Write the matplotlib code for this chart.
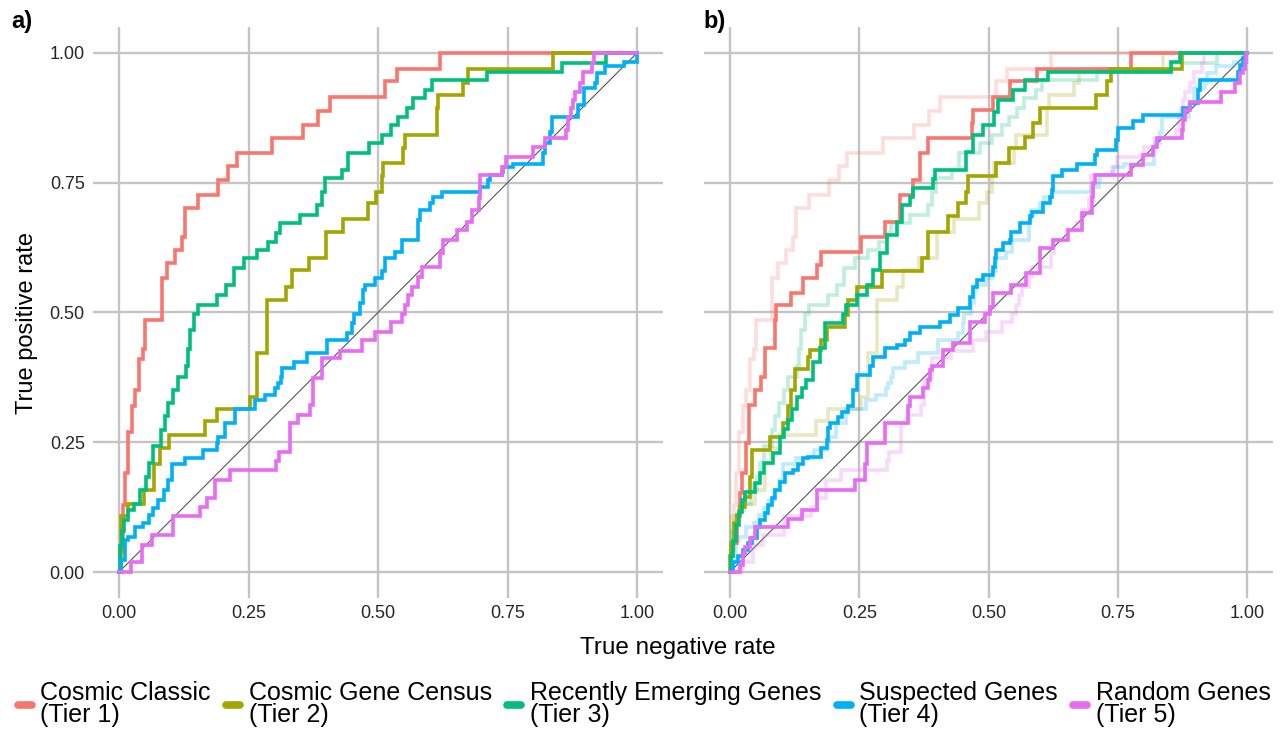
import matplotlib.pyplot as plt
from matplotlib.lines import Line2D

plt.rcParams['font.family'] = ['Liberation Sans', 'DejaVu Sans']

TIER_LABELS = ["Cosmic Classic\n(Tier 1)", "Cosmic Gene Census\n(Tier 2)",
               "Recently Emerging Genes\n(Tier 3)", "Suspected Genes\n(Tier 4)",
               "Random Genes\n(Tier 5)"]
TIER_COLORS = ["#F8766D", "#A3A500", "#00BF7D", "#00B0F6", "#E76BF3"]
TICKS = [0, 0.25, 0.5, 0.75, 1.0]
TICK_LABELS = ["0.00", "0.25", "0.50", "0.75", "1.00"]

# ROC curves, panel a (x = rate where the curve steps up, y = level after the step)
t1a_x = [0, 0.002, 0.008, 0.012, 0.017, 0.025, 0.031, 0.038, 0.046, 0.050, 0.082, 0.092, 0.108, 0.121,
         0.127, 0.153, 0.192, 0.211, 0.227, 0.295, 0.356, 0.385, 0.407, 0.514, 0.536, 0.620, 1.0]
t1a_y = [0, 0.04, 0.13, 0.19, 0.27, 0.32, 0.35, 0.41, 0.43, 0.486, 0.566, 0.595, 0.620, 0.646,
         0.701, 0.726, 0.755, 0.782, 0.808, 0.836, 0.861, 0.889, 0.916, 0.945, 0.970, 1.0, 1.0]

t2a_x = [0, 0.003, 0.017, 0.048, 0.067, 0.080, 0.096, 0.166, 0.189, 0.253, 0.266, 0.285, 0.322, 0.334,
         0.366, 0.400, 0.433, 0.481, 0.497, 0.507, 0.510, 0.549, 0.552, 0.613, 0.616, 0.665, 0.674,
         0.838, 1.0]
t2a_y = [0, 0.107, 0.132, 0.158, 0.209, 0.238, 0.264, 0.290, 0.315, 0.338, 0.421, 0.524, 0.550, 0.582,
         0.604, 0.656, 0.681, 0.710, 0.733, 0.762, 0.788, 0.817, 0.842, 0.893, 0.919, 0.942, 0.970,
         1.0, 1.0]

t3a_x = [0, 0.002, 0.005, 0.010, 0.018, 0.028, 0.041, 0.052, 0.058, 0.066, 0.081, 0.088, 0.095, 0.105,
         0.113, 0.129, 0.133, 0.137, 0.145, 0.152, 0.189, 0.207, 0.221, 0.241, 0.266, 0.288, 0.304,
         0.311, 0.349, 0.382, 0.391, 0.398, 0.430, 0.443, 0.483, 0.507, 0.525, 0.539, 0.555, 0.568,
         0.591, 0.604, 0.710, 0.855, 0.941, 1.0]
t3a_y = [0, 0.05, 0.08, 0.10, 0.12, 0.132, 0.158, 0.184, 0.21, 0.242, 0.274, 0.30, 0.325, 0.35,
         0.376, 0.396, 0.43, 0.466, 0.498, 0.514, 0.534, 0.553, 0.585, 0.604, 0.620, 0.636, 0.654,
         0.672, 0.688, 0.707, 0.733, 0.759, 0.775, 0.807, 0.826, 0.842, 0.861, 0.877, 0.893, 0.913,
         0.929, 0.948, 0.964, 0.981, 1.0, 1.0]

t4a_x = [0, 0.003, 0.012, 0.018, 0.031, 0.047, 0.057, 0.066, 0.076, 0.086, 0.095, 0.102, 0.127, 0.163,
         0.189, 0.192, 0.205, 0.224, 0.263, 0.282, 0.301, 0.306, 0.312, 0.315, 0.338, 0.363, 0.402,
         0.441, 0.450, 0.453, 0.465, 0.471, 0.475, 0.494, 0.507, 0.514, 0.533, 0.546, 0.578, 0.581,
         0.600, 0.607, 0.623, 0.697, 0.713, 0.716, 0.739, 0.742, 0.761, 0.819, 0.822, 0.832, 0.836,
         0.887, 0.897, 0.919, 0.923, 0.939, 0.974, 1.0]
t4a_y = [0, 0.023, 0.062, 0.068, 0.087, 0.094, 0.110, 0.123, 0.139, 0.158, 0.177, 0.209, 0.219, 0.235,
         0.248, 0.261, 0.287, 0.315, 0.331, 0.341, 0.354, 0.364, 0.375, 0.393, 0.405, 0.421, 0.447,
         0.460, 0.48, 0.498, 0.518, 0.543, 0.553, 0.566, 0.579, 0.604, 0.617, 0.640, 0.678, 0.697,
         0.710, 0.723, 0.733, 0.742, 0.755, 0.765, 0.771, 0.781, 0.787, 0.807, 0.826, 0.848, 0.877,
         0.900, 0.932, 0.942, 0.961, 0.974, 0.983, 1.0]

t5a_x = [0, 0.024, 0.044, 0.063, 0.105, 0.156, 0.169, 0.185, 0.214, 0.304, 0.308, 0.330, 0.346, 0.369,
         0.375, 0.391, 0.427, 0.469, 0.494, 0.526, 0.546, 0.552, 0.558, 0.565, 0.578, 0.584, 0.620,
         0.626, 0.652, 0.671, 0.681, 0.694, 0.697, 0.739, 0.748, 0.800, 0.822, 0.862, 0.867, 0.872,
         0.876, 0.880, 0.890, 0.896, 0.913, 0.916, 1.0]
t5a_y = [0, 0.02, 0.052, 0.071, 0.107, 0.126, 0.142, 0.177, 0.197, 0.213, 0.232, 0.287, 0.303, 0.322,
         0.374, 0.412, 0.425, 0.447, 0.463, 0.482, 0.498, 0.514, 0.534, 0.550, 0.569, 0.588, 0.614,
         0.640, 0.659, 0.675, 0.697, 0.720, 0.765, 0.781, 0.800, 0.819, 0.836, 0.852, 0.877, 0.893,
         0.909, 0.925, 0.942, 0.964, 0.980, 1.0, 1.0]

# ROC curves, panel b
t1b_x = [0, 0.003, 0.006, 0.013, 0.019, 0.023, 0.032, 0.037, 0.048, 0.061, 0.068, 0.087, 0.090, 0.119,
         0.142, 0.168, 0.177, 0.254, 0.300, 0.329, 0.354, 0.367, 0.383, 0.467, 0.470, 0.509, 0.541,
         0.593, 0.776, 1.0]
t1b_y = [0, 0.03, 0.055, 0.107, 0.152, 0.190, 0.248, 0.322, 0.351, 0.376, 0.431, 0.486, 0.514, 0.537,
         0.566, 0.592, 0.617, 0.646, 0.675, 0.726, 0.755, 0.807, 0.836, 0.865, 0.890, 0.916, 0.945,
         0.970, 1.0, 1.0]

t2b_x = [0, 0.001, 0.003, 0.008, 0.013, 0.019, 0.029, 0.039, 0.042, 0.077, 0.103, 0.113, 0.119, 0.126,
         0.151, 0.155, 0.177, 0.187, 0.222, 0.229, 0.245, 0.293, 0.372, 0.382, 0.422, 0.440, 0.457,
         0.461, 0.515, 0.540, 0.570, 0.586, 0.599, 0.707, 0.728, 0.737, 0.873, 1.0]
t2b_y = [0, 0.03, 0.055, 0.094, 0.11, 0.126, 0.145, 0.184, 0.235, 0.261, 0.287, 0.319, 0.351, 0.392,
         0.415, 0.428, 0.447, 0.473, 0.495, 0.524, 0.550, 0.579, 0.604, 0.656, 0.685, 0.710, 0.733,
         0.762, 0.788, 0.817, 0.839, 0.865, 0.893, 0.919, 0.945, 0.970, 1.0, 1.0]

t3b_x = [0, 0.002, 0.006, 0.011, 0.017, 0.023, 0.030, 0.048, 0.058, 0.065, 0.084, 0.097, 0.105, 0.113,
         0.120, 0.129, 0.140, 0.148, 0.161, 0.174, 0.184, 0.219, 0.225, 0.245, 0.264, 0.277, 0.290,
         0.303, 0.322, 0.332, 0.348, 0.354, 0.392, 0.396, 0.457, 0.470, 0.490, 0.511, 0.519, 0.547,
         0.570, 0.614, 0.853, 0.870, 1.0]
t3b_y = [0, 0.03, 0.06, 0.09, 0.115, 0.139, 0.155, 0.171, 0.190, 0.21, 0.229, 0.261, 0.275, 0.293,
         0.315, 0.338, 0.355, 0.370, 0.405, 0.431, 0.479, 0.498, 0.514, 0.534, 0.553, 0.582, 0.614,
         0.649, 0.675, 0.707, 0.723, 0.739, 0.757, 0.775, 0.810, 0.842, 0.861, 0.887, 0.909, 0.929,
         0.948, 0.964, 0.983, 1.0, 1.0]

t4b_x = [0, 0.006, 0.016, 0.026, 0.035, 0.042, 0.052, 0.058, 0.068, 0.074, 0.081, 0.087, 0.097, 0.106,
         0.122, 0.132, 0.142, 0.151, 0.177, 0.187, 0.190, 0.193, 0.209, 0.216, 0.229, 0.238, 0.245,
         0.271, 0.277, 0.300, 0.322, 0.338, 0.348, 0.367, 0.406, 0.425, 0.441, 0.464, 0.470, 0.477,
         0.490, 0.509, 0.512, 0.515, 0.528, 0.541, 0.544, 0.560, 0.580, 0.583, 0.605, 0.618, 0.622,
         0.625, 0.641, 0.670, 0.705, 0.709, 0.747, 0.750, 0.779, 0.799, 0.876, 0.889, 0.905, 0.908,
         0.982, 0.986, 0.992, 0.995, 1.0]
t4b_y = [0, 0.02, 0.03, 0.042, 0.055, 0.065, 0.087, 0.10, 0.113, 0.129, 0.142, 0.158, 0.174, 0.190,
         0.197, 0.209, 0.219, 0.222, 0.238, 0.254, 0.277, 0.287, 0.299, 0.309, 0.319, 0.351, 0.380,
         0.396, 0.415, 0.431, 0.437, 0.447, 0.460, 0.473, 0.482, 0.495, 0.508, 0.530, 0.550, 0.563,
         0.572, 0.588, 0.604, 0.620, 0.633, 0.640, 0.656, 0.672, 0.685, 0.694, 0.710, 0.723, 0.736,
         0.762, 0.775, 0.787, 0.803, 0.813, 0.832, 0.855, 0.868, 0.881, 0.893, 0.903, 0.929, 0.948,
         0.964, 0.977, 0.990, 1.0, 1.0]

t5b_x = [0, 0.019, 0.026, 0.029, 0.039, 0.048, 0.113, 0.139, 0.168, 0.242, 0.261, 0.264, 0.300, 0.345,
         0.348, 0.374, 0.383, 0.386, 0.390, 0.412, 0.432, 0.464, 0.493, 0.502, 0.509, 0.544, 0.573,
         0.599, 0.625, 0.654, 0.680, 0.699, 0.702, 0.705, 0.776, 0.799, 0.818, 0.825, 0.873, 0.876,
         0.879, 0.889, 0.950, 0.976, 0.986, 0.992, 0.995, 0.998, 1.0]
t5b_y = [0, 0.013, 0.036, 0.049, 0.065, 0.087, 0.103, 0.119, 0.158, 0.177, 0.209, 0.248, 0.287, 0.319,
         0.338, 0.354, 0.370, 0.389, 0.396, 0.428, 0.441, 0.482, 0.498, 0.511, 0.537, 0.553, 0.576,
         0.624, 0.640, 0.659, 0.691, 0.723, 0.749, 0.765, 0.784, 0.803, 0.819, 0.836, 0.852, 0.871,
         0.890, 0.906, 0.925, 0.942, 0.961, 0.970, 0.983, 1.0, 1.0]

curves_a = [(t1a_x, t1a_y), (t2a_x, t2a_y), (t3a_x, t3a_y), (t4a_x, t4a_y), (t5a_x, t5a_y)]
curves_b = [(t1b_x, t1b_y), (t2b_x, t2b_y), (t3b_x, t3b_y), (t4b_x, t4b_y), (t5b_x, t5b_y)]

LW = 2.6
GRID = "#C4C4C4"

fig = plt.figure(figsize=(12.81, 7.29), dpi=100)
ax_a = fig.add_axes([0.0727, 0.1797, 0.4448, 0.7833])
ax_b = fig.add_axes([0.5496, 0.1797, 0.4443, 0.7833])


def style(ax, ylabels):
    ax.set_xlim(-0.05, 1.05)
    ax.set_ylim(-0.05, 1.05)
    ax.set_xticks(TICKS)
    ax.set_xticklabels(TICK_LABELS)
    ax.set_yticks(TICKS)
    ax.set_yticklabels(TICK_LABELS if ylabels else [])
    ax.grid(True, color=GRID, lw=1.7)
    ax.set_axisbelow(True)
    for s in ax.spines.values():
        s.set_visible(False)
    ax.tick_params(length=0, labelsize=13, labelcolor="#262626")
    ax.tick_params(axis="x", pad=5)
    ax.tick_params(axis="y", pad=6)
    ax.plot([0, 1], [0, 1], color="#555555", lw=0.8, zorder=2)


style(ax_a, True)
style(ax_b, False)

for (x, y), c in zip(curves_a, TIER_COLORS):
    ax_a.step(x, y, where="post", color=c, lw=LW, solid_joinstyle="miter", zorder=3)

# panel b: panel a curves faded underneath the new ones
for (x, y), c in zip(curves_a, TIER_COLORS):
    ax_b.step(x, y, where="post", color=c, lw=LW, alpha=0.25, solid_joinstyle="miter", zorder=3)
for (x, y), c in zip(curves_b, TIER_COLORS):
    ax_b.step(x, y, where="post", color=c, lw=LW, solid_joinstyle="miter", zorder=4)

fig.text(0.009, 0.970, "a)", fontsize=17, fontweight="bold", va="center", ha="left")
fig.text(0.549, 0.970, "b)", fontsize=17, fontweight="bold", va="center", ha="left")
fig.text(0.5293, 0.111, "True negative rate", fontsize=17.5, ha="center", va="center")
fig.text(0.021, 0.557, "True positive rate", fontsize=17, ha="center", va="center", rotation=90)

handles = [Line2D([], [], color=c, lw=5.5, solid_capstyle="round") for c in TIER_COLORS]
leg = fig.legend(handles, TIER_LABELS, loc="center", bbox_to_anchor=(0.503, 0.034), ncol=5,
                 frameon=False, fontsize=18, handlelength=0.55, handletextpad=0.35,
                 columnspacing=0.62, borderaxespad=0)
for t in leg.get_texts():
    t.set_linespacing(0.9)

fig.savefig("out.png", dpi=100)
